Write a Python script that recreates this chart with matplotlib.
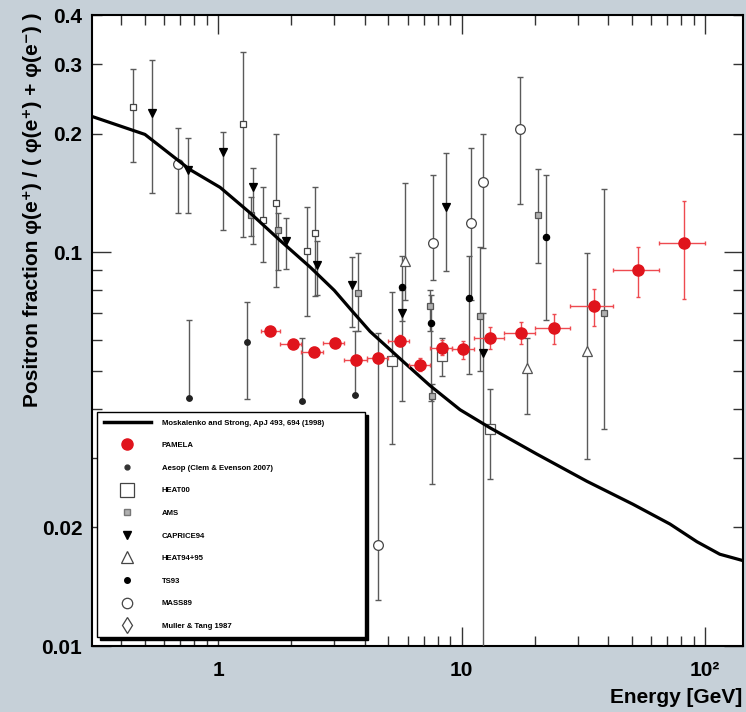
import matplotlib
matplotlib.use('Agg')
import numpy as np
import matplotlib.pyplot as plt
from matplotlib.lines import Line2D

plt.rcParams['font.family'] = ['Liberation Sans', 'DejaVu Sans']
plt.rcParams['font.weight'] = 'bold'

# ---------------- data ----------------
# Moskalenko & Strong model curve
model_E = [0.304, 0.501, 0.767, 1.02, 1.35, 1.80, 2.39, 3.0, 3.58, 4.21, 5.75, 7.43,
           9.86, 13.1, 20.4, 32.7, 50.6, 71.8, 92.6, 115, 147]
model_F = [0.221, 0.199, 0.162, 0.146, 0.126, 0.107, 0.0916, 0.0800, 0.0705, 0.0629, 0.0528, 0.0458,
           0.0398, 0.0358, 0.0307, 0.0262, 0.0229, 0.0204, 0.0184, 0.0171, 0.0164]

# PAMELA
pamela_E = [1.64, 2.03, 2.47, 3.01, 3.68, 4.53, 5.60, 6.75, 8.30, 10.1, 13.1, 17.5, 24.0, 35.0, 53.0, 82.0]
pamela_F = [0.0632, 0.0586, 0.0559, 0.0589, 0.0533, 0.0539, 0.0596, 0.0518, 0.0572, 0.0566,
            0.0607, 0.0625, 0.0640, 0.0728, 0.0900, 0.1054]
pamela_bin_lo = [1.5, 1.8, 2.2, 2.7, 3.3, 4.1, 5.0, 6.1, 7.4, 9.1, 11.2, 15.0, 20.0, 28.0, 42.0, 65.0]
pamela_bin_hi = [1.8, 2.2, 2.7, 3.3, 4.1, 5.0, 6.1, 7.4, 9.1, 11.2, 15.0, 20.0, 28.0, 42.0, 65.0, 100.0]
pamela_err = [0.0015, 0.0014, 0.0014, 0.0015, 0.0015, 0.0017, 0.0020, 0.0020, 0.0025, 0.0030,
              0.0040, 0.0039, 0.0055, 0.0077, 0.0130, 0.0295]

# Aesop (Clem & Evenson 2007)
aesop_E = [0.76, 1.32, 2.21, 3.66]
aesop_F = [0.0427, 0.0590, 0.0419, 0.0435]
aesop_hi = [0.0671, 0.0746, 0.0607, 0.0632]
aesop_lo = [0.0425, 0.0424, 0.0417, 0.0433]

# HEAT00
heat00_E = [5.18, 8.32, 13.1]
heat00_F = [0.0530, 0.0545, 0.0355]
heat00_hi = [0.079, 0.0607, 0.0450]
heat00_lo = [0.0325, 0.0485, 0.0266]

# small open squares (low energy)
sq_E = [0.448, 1.27, 1.53, 1.73, 2.32, 2.50]
sq_F = [0.233, 0.212, 0.1207, 0.133, 0.1006, 0.112]
sq_hi = [0.291, 0.322, 0.146, 0.199, 0.130, 0.146]
sq_lo = [0.169, 0.109, 0.0943, 0.0814, 0.069, 0.0772]

# AMS
ams_E = [1.36, 1.76, 3.76, 7.42, 7.57, 11.9, 20.6, 38.5]
ams_F = [0.124, 0.114, 0.0786, 0.0728, 0.0432, 0.0687, 0.1243, 0.0699]
ams_hi = [0.138, 0.126, 0.0994, 0.080, 0.0463, 0.103, 0.163, 0.1448]
ams_lo = [0.110, 0.090, 0.063, 0.063, 0.0258, 0.050, 0.0937, 0.0356]

# CAPRICE94
cap_E = [0.536, 0.753, 1.05, 1.39, 1.90, 2.55, 3.55, 5.70, 8.64, 12.2]
cap_F = [0.226, 0.162, 0.180, 0.146, 0.107, 0.0927, 0.0824, 0.0699, 0.130, 0.0556]
cap_hi = [0.307, 0.195, 0.202, 0.164, 0.122, 0.107, 0.097, 0.080, 0.179, 0.070]
cap_lo = [0.141, 0.126, 0.114, 0.105, 0.0905, 0.0777, 0.0644, 0.0419, 0.0895, 0.001]

# HEAT94+95
heat95_E = [5.85, 18.6, 32.8]
heat95_F = [0.0950, 0.0509, 0.0562]
heat95_hi = [0.150, 0.0607, 0.0994]
heat95_lo = [0.0754, 0.0389, 0.0298]

# TS93
ts93_E = [5.70, 7.50, 10.7, 22.2]
ts93_F = [0.0814, 0.0659, 0.0763, 0.109]
ts93_hi = [0.098, 0.078, 0.098, 0.157]
ts93_lo = [0.067, 0.042, 0.049, 0.0671]

# MASS89
mass_E = [0.685, 4.54, 7.63, 10.9, 12.25, 17.4]
mass_F = [0.167, 0.0181, 0.1055, 0.1185, 0.151, 0.206]
mass_hi = [0.207, 0.0625, 0.157, 0.184, 0.199, 0.278]
mass_lo = [0.126, 0.0131, 0.085, 0.0754, 0.1024, 0.1326]

legend_labels = ['Moskalenko and Strong, ApJ 493, 694 (1998)', 'PAMELA',
                 'Aesop (Clem & Evenson 2007)', 'HEAT00', 'AMS', 'CAPRICE94',
                 'HEAT94+95', 'TS93', 'MASS89', 'Muller & Tang 1987']

# ---------------- figure ----------------
BG = '#c6d0d8'
fig = plt.figure(figsize=(7.46, 7.12), dpi=100, facecolor=BG)
ax = fig.add_axes([92/746, 1 - 646/712, 651/746, 631/712])
ax.set_xscale('log')
ax.set_yscale('log')
ax.set_xlim(0.3037, 143.2)
ax.set_ylim(0.01, 0.4)

ERRC = '#5a5a5a'

def group(E, F, lo, hi, marker, ms, mfc, mec, z=3):
    E = np.array(E); F = np.array(F); lo = np.array(lo); hi = np.array(hi)
    ax.errorbar(E, F, yerr=[F - lo, hi - F], fmt='none', ecolor=ERRC,
                elinewidth=1.0, capsize=2, capthick=1.0, zorder=z)
    ax.plot(E, F, linestyle='none', marker=marker, ms=ms, mfc=mfc, mec=mec,
            mew=0.9, zorder=z + 0.5)

group(sq_E, sq_F, sq_lo, sq_hi, 's', 5, 'white', '#444444')
group(ams_E, ams_F, ams_lo, ams_hi, 's', 4.5, '#b0b0b0', '#555555')
group(heat00_E, heat00_F, heat00_lo, heat00_hi, 's', 7, 'white', '#555555')
group(cap_E, cap_F, cap_lo, cap_hi, 'v', 6, 'black', 'black')
group(heat95_E, heat95_F, heat95_lo, heat95_hi, '^', 7.5, 'white', '#555555')
group(ts93_E, ts93_F, ts93_lo, ts93_hi, 'o', 4.5, 'black', 'black')
group(mass_E, mass_F, mass_lo, mass_hi, 'o', 7, 'white', '#444444')
group(aesop_E, aesop_F, aesop_lo, aesop_hi, 'o', 4, '#222222', '#222222')

# model
ax.plot(model_E, model_F, color='black', lw=2.3, zorder=6)

# PAMELA
pE = np.array(pamela_E); pF = np.array(pamela_F)
xerr = [pE - np.array(pamela_bin_lo), np.array(pamela_bin_hi) - pE]
ax.errorbar(pE, pF, xerr=xerr, yerr=pamela_err, fmt='none', ecolor='#ee4a50',
            elinewidth=1.0, capsize=1.5, zorder=7)
ax.plot(pE, pF, 'o', ms=8, color='#e0141c', mec='#e0141c', zorder=8)

# ticks
ax.set_xticks([1, 10, 100], ['1', '10', '10²'])
xminor = [0.4, 0.5, 0.6, 0.7, 0.8, 0.9, 2, 3, 4, 5, 6, 7, 8, 9,
          20, 30, 40, 50, 60, 70, 80, 90]
ax.set_xticks(xminor, [''] * len(xminor), minor=True)
ax.set_yticks([0.01, 0.1], ['0.01', '0.1'])
yminor = [0.02, 0.03, 0.04, 0.05, 0.06, 0.07, 0.08, 0.09, 0.2, 0.3, 0.4]
ylabs = ['0.02', '', '', '', '', '', '', '', '0.2', '0.3', '0.4']
ax.set_yticks(yminor, ylabs, minor=True)
ax.tick_params(which='both', direction='in', top=True, right=True, width=1.0,
               labelsize=15, color='#333333')
ax.tick_params(which='major', length=14)
ax.tick_params(which='minor', length=7)
ax.tick_params(axis='x', which='both', pad=11)
ax.tick_params(axis='y', which='both', pad=7)
for lab in ax.get_xticklabels() + ax.get_yticklabels() + \
        ax.get_yticklabels(minor=True):
    lab.set_fontweight('bold')
for s in ax.spines.values():
    s.set_linewidth(1.5)

# legend with proxy handles
handles = [
    Line2D([], [], color='black', lw=2.5),
    Line2D([], [], ls='none', marker='o', ms=8, color='#e0141c'),
    Line2D([], [], ls='none', marker='o', ms=3.5, color='#333333'),
    Line2D([], [], ls='none', marker='s', ms=10, mfc='white', mec='#444444', mew=0.9),
    Line2D([], [], ls='none', marker='s', ms=5, mfc='#b0b0b0', mec='#777777'),
    Line2D([], [], ls='none', marker='v', ms=6, color='black'),
    Line2D([], [], ls='none', marker='^', ms=9, mfc='white', mec='#444444', mew=0.9),
    Line2D([], [], ls='none', marker='o', ms=4, color='black'),
    Line2D([], [], ls='none', marker='o', ms=7.5, mfc='white', mec='#444444', mew=0.9),
    Line2D([], [], ls='none', marker='d', ms=8, mfc='white', mec='#444444', mew=0.9),
]
leg = ax.legend(handles, legend_labels, loc='lower left',
                bbox_to_anchor=(5/651, 9/631, 268/651, 224/631),
                mode='expand', prop={'size': 5.6, 'weight': 'bold'},
                labelspacing=1.95, handlelength=6.0, handletextpad=1.4,
                borderpad=0.9, borderaxespad=0, fancybox=False,
                frameon=True, edgecolor='black', facecolor='white', framealpha=1,
                shadow={'color': 'black', 'alpha': 1})
leg.get_frame().set_linewidth(1.0)
leg.set_zorder(20)

# labels
fig.text(33/746, 1 - 210/712,
         'Positron fraction φ(e⁺) / ( φ(e⁺) + φ(e⁻) )',
         rotation=90, ha='center', va='center', fontsize=15, fontweight='bold')
fig.text(742/746, 1 - 703/712, 'Energy [GeV]', ha='right', va='baseline',
         fontsize=15, fontweight='bold')

fig.savefig('out.png', dpi=100, facecolor=BG)
